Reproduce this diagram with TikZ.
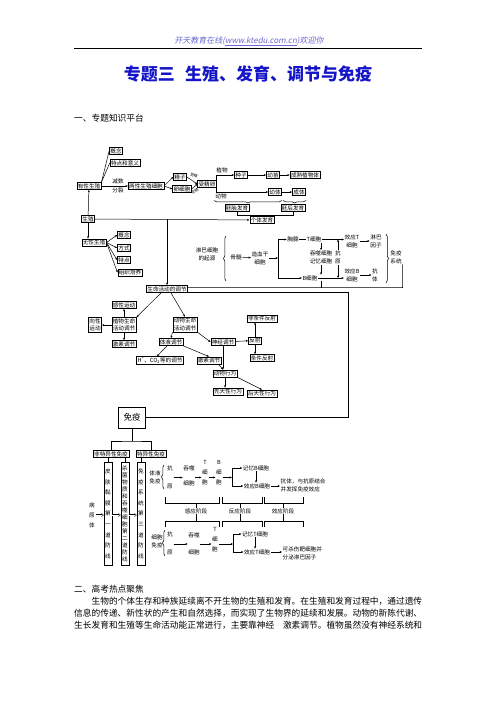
\documentclass[tikz,border=0pt]{standalone}
\usepackage{fontspec}
\setmainfont{Noto Sans CJK SC}
\newfontfamily\hdfont[FakeSlant=0.2]{Noto Sans CJK SC}
\usetikzlibrary{arrows.meta, decorations.pathreplacing}
\definecolor{titleBlue}{HTML}{1414C8}
\definecolor{headBlue}{HTML}{6A6AD2}
\newcommand\dfont{\fontsize{5.6}{7.6}\selectfont}
\newcommand\bodyfont{\fontsize{8.7}{10}\selectfont}

\begin{document}
\begin{tikzpicture}[x=1pt, y=-1pt,
    box/.style={draw, line width=0.6pt, inner sep=1pt, font=\dfont, align=center},
    lbl/.style={inner sep=0.5pt, font=\fontsize{5.6}{8.2}\selectfont, align=center},
    arr/.style={-{Stealth[length=2.4pt,width=2pt]}, line width=0.5pt},
    ln/.style={line width=0.5pt},
    brc/.style={decorate, decoration={brace, amplitude=2.5pt}, line width=0.5pt},
    dbl/.style={double, double distance=0.8pt, line width=0.4pt, -{Implies}},
    vbox/.style={draw, line width=0.6pt, inner sep=1pt, align=center, text width=6pt, minimum height=103pt, anchor=north},
    txt/.style={anchor=west, inner sep=0pt, font=\bodyfont}]

\useasboundingbox[fill=white] (0,0) rectangle (496,702);

% page head
\node[inner sep=0pt, font=\hdfont\fontsize{8}{9}\selectfont, text=headBlue] (head) at (249,41) {开天教育在线(\underline{www.ktedu.com.cn})欢迎你};
\draw[line width=0.8pt] (74,48) -- (422,48);
\node[inner sep=0pt, font=\bfseries\fontsize{17}{18}\selectfont, text=titleBlue] (title) at (248,73.5) {专题三\hspace{0.6em}生殖、发育、调节与免疫};
\node[txt] (sec1) at (74,118) {一、专题知识平台};

% reproduction and development
\node[box] (gainian) at (116,151) {概念};
\node[box] (yiyi) at (125,163) {特点和意义};
\node[box] (youxing) at (89,186) {有性生殖};
\node[lbl] (jianshu) at (118,181) {减数};
\node[lbl] (fenlie) at (118,190.5) {分裂};
\node[box] (liangxing) at (146,186) {两性生殖细胞};
\node[box] (jingzi) at (180,177) {精子};
\node[box] (luan) at (182,189) {卵细胞};
\node[box] (shoujing) at (207,184) {受精卵};
\node[lbl, font=\fontsize{3.8}{4}\selectfont, rotate=-25] (sj1) at (194,175.5) {受精};
\node[lbl, font=\fontsize{3.8}{4}\selectfont, rotate=30] (sj2) at (195,191.5) {受精};
\draw[ln] (youxing.north east) -- (gainian.west);
\draw[ln] (youxing.north east) -- (yiyi.west);
\draw[arr] (youxing.east) -- (liangxing.west);
\draw[arr] (liangxing.east) -- (jingzi.west);
\draw[arr] (liangxing.east) -- (luan.west);
\draw[arr] (jingzi.east) -- (shoujing.west);
\draw[arr] (luan.east) -- (shoujing.west);

\node[lbl] (zhiwu) at (222,170) {植物};
\node[box] (zhongzi) at (241,175) {种子};
\node[box] (youmiao) at (273,175) {幼苗};
\node[box] (chengshu) at (305,175) {成熟植物体};
\draw[arr] (shoujing.north east) |- (zhongzi.west);
\draw[arr] (zhongzi) -- (youmiao);
\draw[arr] (youmiao) -- (chengshu);

\node[lbl] (dongwu) at (221,196) {动物};
\node[box] (youti) at (275,192) {幼体};
\node[box] (chengti) at (299,192) {成体};
\draw[arr] (shoujing.south east) |- (youti.west);
\draw[arr] (youti) -- (chengti);
\draw[brc] (282,200.5) -- (214,200.5);
\draw[brc] (306,200.5) -- (283,200.5);
\node[box] (peitai) at (237,208) {胚胎发育};
\node[box] (peihou) at (293,208) {胚后发育};
\coordinate (gtjoin) at (262,215.5);
\draw[ln] (peitai.south) |- (gtjoin) -| (peihou.south);
\node[box] (geti) at (262,220) {个体发育};
\draw[ln] (gtjoin) -- (geti.north);

\node[box] (shengzhi) at (88,219) {生殖};
\node[box] (wuxing) at (94,242.5) {无性生殖};
\draw[arr] (shengzhi) -- (youxing);
\draw[arr] (shengzhi.south) -- (shengzhi.south |- wuxing.north);
\draw[arr] (shengzhi) -- (geti);
\node[box] (wxgn) at (124,235) {概念};
\node[box] (fangshi) at (124,248) {方式};
\node[box] (tedian) at (124,260) {特点};
\node[box] (zzpy) at (130,272.5) {组织培养};
\foreach \n in {wxgn,fangshi,tedian,zzpy}
    \draw[arr] (wuxing.east) -- (\n.west);

% origin of lymphocytes
\node[lbl] (qiyuan) at (207,254) {淋巴细胞\\的起源};
\draw[brc] (226,281) -- (226,236);
\node[lbl] (gusui) at (236,257) {骨髓};
\node[lbl] (zaoxue) at (260,258) {造血干\\细胞};
\draw[arr] (gusui) -- (zaoxue);
\coordinate (fork0) at (278,258);
\draw[arr] (zaoxue) -- (fork0);
\node[lbl] (xiongxian) at (293,239.5) {胸腺};
\node[lbl] (tcell0) at (314,239.5) {T细胞};
\node[lbl] (bcell0) at (310,278) {B细胞};
\draw[arr] (fork0) |- (xiongxian.west);
\draw[arr] (fork0) |- (bcell0.west);
\draw[ln] (xiongxian) -- (tcell0);
\node[lbl] (jiyi0) at (321,257.5) {吞噬细胞\\记忆细胞};
\node[lbl] (kangyuan0) at (338,257.5) {抗\\原};
\node[lbl] (xyT0) at (352,241) {效应T\\细胞};
\node[lbl] (lbyz) at (376,241) {淋巴\\因子};
\node[lbl] (xyB0) at (352,275) {效应B\\细胞};
\node[lbl] (kt0) at (375,275) {抗\\体};
\draw[arr] (tcell0.east) -- (tcell0.east -| xyT0.west);
\draw[arr] (bcell0.east) -- (bcell0.east -| xyB0.west);
\draw[arr] (xyT0) -- (lbyz);
\draw[arr] (xyB0) -- (kt0);
\draw[arr] (jiyi0.north |- tcell0.south) -- (jiyi0.north);
\draw[arr] (jiyi0.south) -- (jiyi0.south |- bcell0.north);
\draw[arr] (kangyuan0.north) -- (kangyuan0.north |- tcell0.east);
\draw[arr] (kangyuan0.south) -- (kangyuan0.south |- bcell0.east);
\draw[brc] (386,234) -- (386,283);
\node[lbl] (mianyixt) at (396,257) {免疫\\系统};

% regulation
\node[box] (tiaojie) at (167,289) {生命活动的调节};
\coordinate (tjtop) at (167,219);
\draw[arr] (tjtop) -- (tiaojie.north);
\coordinate (cnrA) at (402.5,287.5);
\draw[ln] (mianyixt.south east) -- (cnrA) -- ([yshift=1.5pt]tiaojie.east);
\draw[ln] (jiyi0.south |- bcell0.south) -- (jiyi0.south |- cnrA);

\node[box] (ganxing) at (124,305) {感性运动};
\node[box] (xiangxing) at (95,325) {向性\\运动};
\node[box] (zhiwutj) at (124,325) {植物生命\\活动调节};
\node[box] (jisuzw) at (124,344) {激素调节};
\node[box] (dongwutj) at (185,324.5) {动物生命\\活动调节};
\node[box] (tiye) at (171,342) {体液调节};
\node[box] (shenjing) at (223,342) {神经调节};
\node[box] (hco) at (160,360.5) {H\textsuperscript{+}、CO\textsubscript{2}等的调节};
\node[box] (jisudw) at (209,360.5) {激素调节};
\node[box] (dongwuxw) at (225,373.5) {动物行为};
\node[box] (xiantian) at (228,391.5) {先天性行为};
\node[box] (houtian) at (262,393.5) {后天性行为};
\node[box] (fanshe) at (255,340.5) {反射};
\node[box] (feitiaojian) at (262,318.5) {非条件反射};
\node[box] (tiaojian) at (262,358) {条件反射};
\draw[arr] ([xshift=-6pt]tiaojie.south) -- (zhiwutj.north east);
\draw[arr] ([xshift=4pt]tiaojie.south) -- (dongwutj.north);
\draw[arr] (zhiwutj) -- (ganxing);
\draw[arr] (zhiwutj) -- (xiangxing);
\draw[arr] (zhiwutj) -- (jisuzw);
\draw[arr] (dongwutj.south west) -- (tiye.north);
\draw[arr] (dongwutj.south east) -- (shenjing.west);
\draw[arr] ([xshift=-4pt]tiye.south) -- ([xshift=-3pt]hco.north);
\draw[arr] (tiye.south east) -- (jisudw.north);
\draw[arr] (shenjing) -- (fanshe);
\draw[arr] (fanshe.north) -- (fanshe.north |- feitiaojian.south);
\draw[arr] (fanshe.south) -- (fanshe.south |- tiaojian.north);
\draw[arr] (shenjing.south) -- (shenjing.south |- dongwuxw.north);
\draw[arr] ([xshift=-3pt]jisudw.south east) -- ([xshift=-2pt]dongwuxw.north);
\draw[arr] (dongwuxw.south) -- (dongwuxw.south |- xiantian.north);
\draw[arr] (dongwuxw.south east) -- (houtian.north);

% immunity
\node[draw, line width=0.6pt, minimum width=27pt, minimum height=21pt, font=\fontsize{8.5}{9}\selectfont] (mianyi) at (132,417.5) {免疫};
\coordinate (cnrB) at (348,292);
\draw[ln] (mianyi.east) -| (cnrB) -- ([yshift=-3pt]tiaojie.east);
\coordinate (myjoin) at (132,441);
\node[box] (feiteyi) at (111,454) {非特异性免疫};
\node[box] (teyi) at (151,454) {特异性免疫};
\draw[ln] (mianyi.south) -- (myjoin);
\draw[ln] (feiteyi.north) |- (myjoin) -| (teyi.north);
\node[vbox, font=\fontsize{5.6}{10.6}\selectfont] (fangxian1) at (108,462) {皮\\肤\\黏\\膜\\第\\一\\道\\防\\线};
\node[vbox, font=\fontsize{5.6}{7}\selectfont] (fangxian2) at (125,462) {杀\\菌\\物\\质\\和\\吞\\噬\\细\\胞\\第\\二\\道\\防\\线};
\node[vbox, font=\fontsize{5.6}{10.6}\selectfont] (fangxian3) at (141,462) {免\\疫\\系\\统\\第\\三\\道\\防\\线};
\draw[ln] (fangxian1.north |- feiteyi.south) -- (fangxian1.north);
\draw[ln] (fangxian2.north |- feiteyi.south) -- (fangxian2.north);
\draw[ln] (fangxian3.north |- teyi.south) -- (fangxian3.north);
\node[lbl, font=\fontsize{5.6}{10}\selectfont] (bingyuan) at (92,515) {病\\原\\体};
\draw[dbl] (bingyuan.east) -- (bingyuan.east -| fangxian1.west);
\draw[dbl] (fangxian1.east |- bingyuan) -- (fangxian2.west |- bingyuan);
\draw[dbl] (fangxian2.east |- bingyuan) -- (fangxian3.west |- bingyuan);

% humoral
\node[lbl] (tiyemy) at (155,477) {体液\\免疫};
\draw[brc] (164,489) -- (164,465);
\node[lbl, font=\fontsize{5.6}{18}\selectfont] (ky1) at (170,477) {抗\\原};
\node[lbl, font=\fontsize{5.6}{15}\selectfont] (tsx1) at (189,475.5) {吞噬\\细胞};
\node[lbl, font=\fontsize{5.6}{10}\selectfont] (tc1) at (205,473) {T\\细\\胞};
\node[lbl, font=\fontsize{5.6}{10}\selectfont] (bc1) at (219,473) {B\\细\\胞};
\coordinate (fork1) at (232,477.5);
\node[lbl] (jyB) at (256,468) {记忆B细胞};
\node[lbl] (xyB1) at (257,486) {效应B细胞};
\node[lbl, anchor=west, align=left] (kt1) at (280,485.5) {抗体，与抗原结合\\并发挥免疫效应};
\draw[arr] (ky1.east |- fork1) -- (tsx1.west |- fork1);
\draw[arr] (tsx1.east |- fork1) -- (tc1.west |- fork1);
\draw[arr] (tc1.east |- fork1) -- (bc1.west |- fork1);
\draw[arr] (bc1.east |- fork1) -- (fork1);
\draw[arr] (fork1) |- (jyB.west);
\draw[arr] (fork1) |- (xyB1.west);
\draw[arr] (jyB) -- (jyB |- xyB1.north);
\draw[arr] (xyB1.east) -- (xyB1.east -| kt1.west);

% stages
\node[lbl] (ganying) at (196,511) {感应阶段};
\node[lbl] (fanying) at (240,511) {反应阶段};
\node[lbl] (xiaoying) at (283,511) {效应阶段};
\foreach \a/\b/\n in {165/219/ganying, 222/262/fanying, 264/303/xiaoying} {
    \draw[ln] (\a,497) -- (\a,503) -- (\b,503) -- (\b,497);
    \draw[ln] (\n.north) -- ++(0,-4);
    \draw[ln] (\a,527) -- (\a,521.5) -- (\b,521.5) -- (\b,527);
    \draw[ln] (\n.south) -- ++(0,7);
}

% cellular
\node[lbl] (xibaomy) at (157,541) {细胞\\免疫};
\draw[brc] (165,556) -- (165,530);
\node[lbl, font=\fontsize{5.6}{18}\selectfont] (ky2) at (170,543) {抗\\原};
\node[lbl, font=\fontsize{5.6}{17}\selectfont] (tsx2) at (194,543.5) {吞噬\\细胞};
\node[lbl, font=\fontsize{5.6}{10}\selectfont] (tc2) at (215,540) {T\\细\\胞};
\coordinate (fork2) at (233,544);
\node[lbl] (jyT) at (255,534) {记忆T细胞};
\node[lbl] (xyT2) at (257,552) {效应T细胞};
\node[lbl, anchor=west, align=left] (ksh) at (282,553) {可杀伤靶细胞并\\分泌淋巴因子};
\draw[arr] (ky2.east |- fork2) -- (tsx2.west |- fork2);
\draw[arr] (tsx2.east |- fork2) -- (tc2.west |- fork2);
\draw[arr] (tc2.east |- fork2) -- (fork2);
\draw[arr] (fork2) |- (jyT.west);
\draw[arr] (fork2) |- (xyT2.west);
\draw[arr] (jyT) -- (jyT |- xyT2.north);
\draw[arr] (xyT2.east) -- (xyT2.east -| ksh.west);

% text
\node[txt] (sec2) at (74,589) {二、高考热点聚焦};
\node[txt] (p1) at (91.4,601) {生物的个体生存和种族延续离不开生物的生殖和发育。在生殖和发育过程中，通过遗传};
\node[txt] (p2) at (74,613) {信息的传递、新性状的产生和自然选择，而实现了生物界的延续和发展。动物的新陈代谢、};
\node[txt] (p3) at (74,625) {生长发育和生殖等生命活动能正常进行，主要靠神经\hspace{1em}激素调节。植物虽然没有神经系统和};
\end{tikzpicture}
\end{document}
